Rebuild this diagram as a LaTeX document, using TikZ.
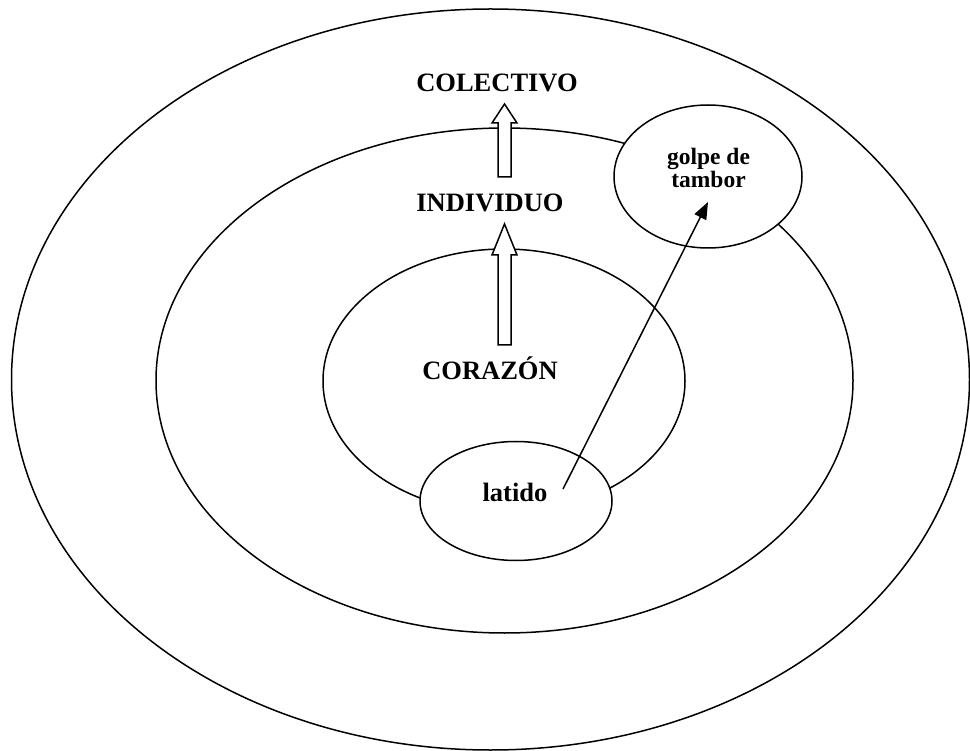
\documentclass[tikz,border=0pt]{standalone}
\usepackage{fontspec}
\setmainfont{Liberation Serif}
\usetikzlibrary{shapes.geometric,arrows.meta}
\begin{document}
\begin{tikzpicture}[x=1pt,y=-1pt,
  ring/.style={draw,ellipse,line width=1.5pt,inner sep=0pt,outer sep=0pt},
  bubble/.style={ring,fill=white},
  lbl/.style={font=\bfseries\fontsize{26.5}{30}\selectfont,inner sep=0pt,anchor=base},
  small/.style={font=\bfseries\fontsize{23.5}{23.5}\selectfont,inner sep=0pt,anchor=base},
  uparrow/.style={draw,fill=white,line width=1.5pt,line join=miter},
  link/.style={line width=1.5pt,-{Triangle[length=17pt,width=13pt]}}]
\useasboundingbox (0,0) rectangle (970,751);

% concentric rings
\node[ring,minimum width=958pt,minimum height=741pt] (outer) at (490.5,379.5) {};
\node[ring,minimum width=697pt,minimum height=505pt] (middle) at (504.5,380.5) {};
\node[ring,minimum width=362pt,minimum height=264pt] (inner) at (504,381) {};

% level labels
\node[lbl] (colectivo) at (497,92) {COLECTIVO};
\node[lbl] (individuo) at (490,212) {INDIVIDUO};
\node[lbl] (corazon) at (490,380) {CORAZÓN};

% hollow block arrows between levels
\draw[uparrow] (498,177) -- (498,123) -- (492,123) -- (504.5,104) -- (517,123)
  -- (511,123) -- (511,177) -- cycle;
\draw[uparrow] (498,345) -- (498,255) -- (492,255) -- (504.5,224) -- (517,255)
  -- (511,255) -- (511,345) -- cycle;

% small bubbles
\node[bubble,minimum width=192pt,minimum height=119pt] (latidoB) at (516,501) {};
\node[bubble,minimum width=188pt,minimum height=143pt] (golpeB) at (708,176.5) {};

\node[lbl] (latido) at (515,501) {latido};
\node[small] (golpe) at (708.5,165) {golpe de};
\node[small] (tambor) at (708.5,188) {tambor};

% beat carried to the drum
\coordinate (beat) at (563,489);
\coordinate (hit) at (708,202);
\draw[link] (beat) -- (hit);
\end{tikzpicture}
\end{document}
